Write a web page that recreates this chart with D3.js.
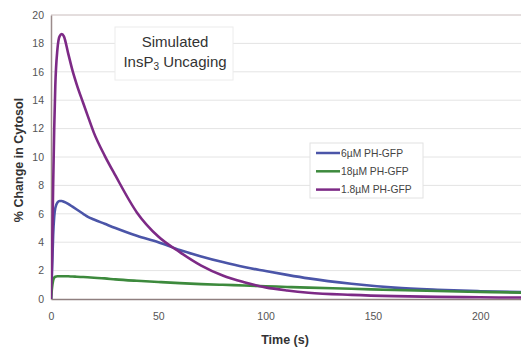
<!DOCTYPE html>
<html>
<head>
<meta charset="utf-8">
<script src="https://cdn.jsdelivr.net/npm/d3@7"></script>
<style>
  body { margin: 0; background: #fff; }
  svg { display: block; font-family: Arial, "Liberation Sans", sans-serif; }
</style>
</head>
<body>
<svg width="521" height="349"></svg>
<script>
// values
var times  = [0, 0.5, 1, 1.5, 2, 3, 4, 5, 6, 8, 10, 12, 15, 17, 20, 25, 30, 40, 50, 60, 70, 80, 90, 100, 110, 120, 140, 160, 180, 200, 220];
var blue   = [0, 2, 4.5, 5.8, 6.4, 6.8, 6.9, 6.9, 6.85, 6.7, 6.5, 6.3, 6.0, 5.8, 5.6, 5.3, 5.0, 4.45, 4.0, 3.45, 3.0, 2.6, 2.25, 1.97, 1.7, 1.45, 1.07, 0.8, 0.65, 0.55, 0.48];
var green  = [0, 0.8, 1.3, 1.5, 1.57, 1.6, 1.6, 1.6, 1.6, 1.6, 1.58, 1.57, 1.55, 1.53, 1.5, 1.45, 1.38, 1.28, 1.2, 1.12, 1.05, 1.0, 0.95, 0.9, 0.85, 0.8, 0.72, 0.63, 0.56, 0.5, 0.45];
var purple = [0, 3, 8, 12, 15, 17.6, 18.5, 18.65, 18.5, 17.3, 16.1, 15.1, 13.8, 12.95, 11.7, 10.1, 8.7, 6.1, 4.4, 3.3, 2.35, 1.65, 1.18, 0.82, 0.6, 0.44, 0.29, 0.2, 0.15, 0.12, 0.1];

var seriesNames  = ["6\u00b5M PH-GFP", "18\u00b5M PH-GFP", "1.8\u00b5M PH-GFP"];
var seriesColors = ["#4b55a8", "#3d8a3d", "#7d2a86"];
var xTicks = [0, 50, 100, 150, 200];
var yTicks = [0, 2, 4, 6, 8, 10, 12, 14, 16, 18, 20];

var svg = d3.select("svg");
var x = d3.scaleLinear().domain([0, 219]).range([51, 521]);
var y = d3.scaleLinear().domain([0, 20]).range([299, 15]);

// gridlines
svg.append("g")
    .selectAll("line")
    .data(yTicks.slice(1))
    .enter().append("line")
    .attr("x1", x(0)).attr("x2", 521)
    .attr("y1", function(d) { return y(d); })
    .attr("y2", function(d) { return y(d); })
    .attr("stroke", function(d) { return d == 20 ? "#c9bcbc" : "#e4e4e4"; })
    .attr("stroke-width", 1);

// y axis
var yAxis = svg.append("g")
    .attr("transform", "translate(" + x(0) + ",0)")
    .call(d3.axisLeft(y).tickValues(yTicks).tickSize(0).tickPadding(7));
yAxis.select(".domain").attr("stroke", "#9b8b8b").attr("stroke-width", 1.5);
yAxis.selectAll("text").attr("fill", "#555").style("font-size", "10.5px");

// x axis
var xAxis = svg.append("g")
    .attr("transform", "translate(0," + y(0) + ")")
    .call(d3.axisBottom(x).tickValues(xTicks).tickSize(0).tickPadding(14));
xAxis.select(".domain").attr("stroke", "#8f7f7f").attr("stroke-width", 1.5);
xAxis.selectAll("text").attr("fill", "#555").style("font-size", "10.5px");

// lines
var line = d3.line()
    .x(function(d) { return x(d[0]); })
    .y(function(d) { return y(d[1]); })
    .curve(d3.curveMonotoneX);

svg.append("clipPath").attr("id", "plot")
    .append("rect").attr("x", x(0)).attr("y", 0).attr("width", 521 - x(0)).attr("height", y(0));

[blue, green, purple].forEach(function(vals, i) {
    svg.append("path")
        .datum(times.map(function(t, j) { return [t, vals[j]]; }))
        .attr("clip-path", "url(#plot)")
        .attr("fill", "none")
        .attr("stroke", seriesColors[i])
        .attr("stroke-width", 2.6)
        .attr("stroke-linejoin", "round")
        .attr("d", line);
});

// axis titles
svg.append("text")
    .attr("x", 285).attr("y", 344)
    .attr("text-anchor", "middle")
    .style("font-size", "12.5px").style("font-weight", "bold")
    .attr("fill", "#333")
    .text("Time (s)");

svg.append("text")
    .attr("transform", "translate(23,160) rotate(-90)")
    .attr("text-anchor", "middle")
    .style("font-size", "12.5px").style("font-weight", "bold")
    .attr("fill", "#333")
    .text("% Change in Cytosol");

// title box
svg.append("rect")
    .attr("x", 115).attr("y", 27).attr("width", 118).attr("height", 53)
    .attr("fill", "#fff").attr("stroke", "#ececec");
svg.append("text")
    .attr("x", 175).attr("y", 47)
    .attr("text-anchor", "middle")
    .style("font-size", "15px").attr("fill", "#333")
    .text("Simulated");
var t2 = svg.append("text")
    .attr("x", 175).attr("y", 67)
    .attr("text-anchor", "middle")
    .style("font-size", "15px").attr("fill", "#333");
t2.append("tspan").text("InsP");
t2.append("tspan").attr("dy", 3).style("font-size", "10px").text("3");
t2.append("tspan").attr("dy", -3).text(" Uncaging");

// legend
var legend = svg.append("g");
legend.append("rect")
    .attr("x", 310).attr("y", 143).attr("width", 113).attr("height", 55)
    .attr("fill", "#fff").attr("stroke", "#e2e2e2");
var item = legend.selectAll(".item")
    .data(seriesNames)
    .enter().append("g")
    .attr("transform", function(d, i) { return "translate(316," + (153 + i * 18.3) + ")"; });
item.append("line")
    .attr("x1", 0).attr("x2", 24)
    .attr("stroke", function(d, i) { return seriesColors[i]; })
    .attr("stroke-width", 2.5);
item.append("text")
    .attr("x", 25).attr("y", 3.8)
    .style("font-size", "10.3px").attr("fill", "#444")
    .text(function(d) { return d; });
</script>
</body>
</html>
